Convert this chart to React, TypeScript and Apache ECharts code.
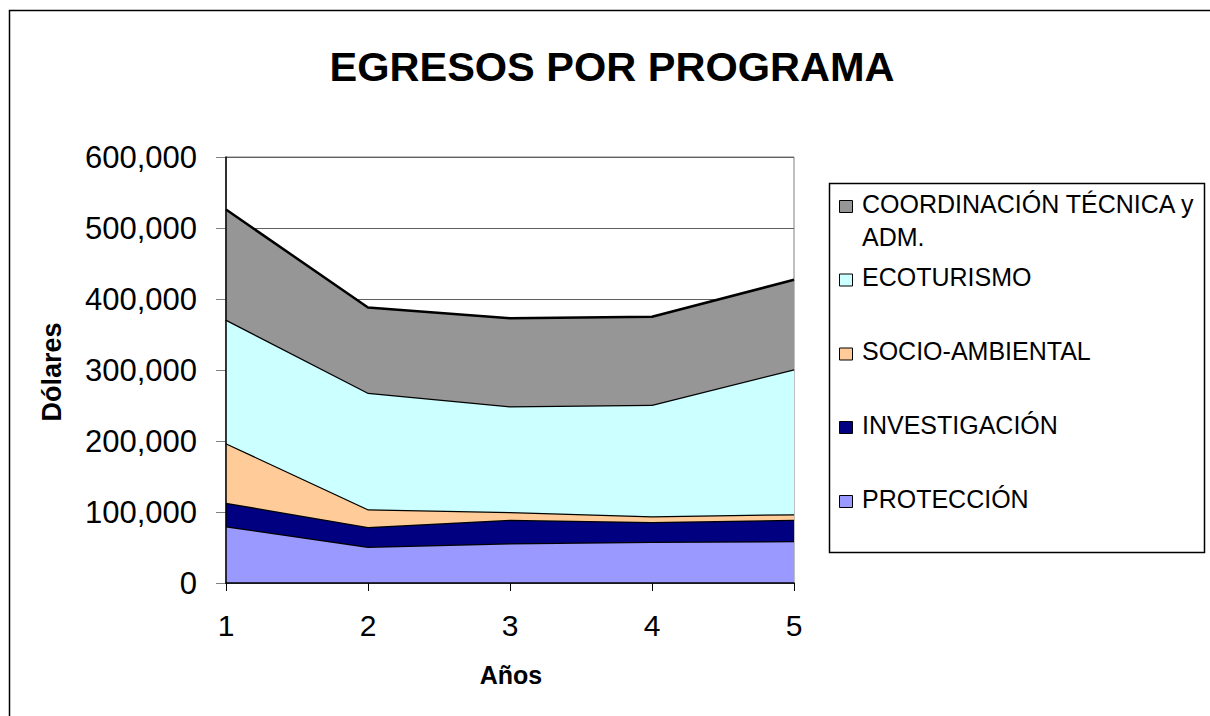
import React, { useEffect, useRef } from "react";
import * as echarts from "echarts";

const years = ["1", "2", "3", "4", "5"];
const proteccion = [80000, 51000, 56000, 58000, 59000];
const investigacion = [33000, 28000, 33000, 28000, 30000];
const socioAmbiental = [84000, 25000, 11000, 8000, 8000];
const ecoturismo = [174000, 164000, 149000, 157000, 204000];
const coordinacion = [155000, 120000, 124000, 124000, 126000];

const seriesNames = [
  "PROTECCIÓN",
  "INVESTIGACIÓN",
  "SOCIO-AMBIENTAL",
  "ECOTURISMO",
  "COORDINACIÓN TÉCNICA y\nADM.",
];
const seriesData = [proteccion, investigacion, socioAmbiental, ecoturismo, coordinacion];
const seriesColors = ["#9999FF", "#000080", "#FFCC99", "#CCFFFF", "#969696"];

const FONT = "'Liberation Sans', Arial, sans-serif";

export default function App() {
  const ref = useRef<HTMLDivElement>(null);
  useEffect(() => {
    document.body.style.margin = "0";
    const chart = echarts.init(ref.current!, null, { renderer: "svg" });

    const series = seriesData.map((d, i) => ({
      name: seriesNames[i],
      type: "line",
      stack: "total",
      data: d,
      symbol: "none",
      lineStyle: { color: "#000", width: 2.5 },
      itemStyle: { color: seriesColors[i] },
      areaStyle: { color: seriesColors[i], opacity: 1 },
      z: 2 + i,
    }));

    const legendItems: any[] = [];
    const legendY = [204, 277.5, 351.5, 425, 499];
    for (let k = 0; k < seriesNames.length; k++) {
      const idx = seriesNames.length - 1 - k;
      const cy = legendY[k];
      legendItems.push({
        type: "rect",
        shape: { x: 839.5, y: cy - 3.5, width: 13, height: 12 },
        style: { fill: seriesColors[idx], stroke: "#000", lineWidth: 1 },
      });
      legendItems.push({
        type: "text",
        style: {
          text: seriesNames[idx],
          x: 862,
          y: cy - 17,
          font: `25px ${FONT}`,
          fill: "#000",
          textAlign: "left",
          textVerticalAlign: "top",
          lineHeight: 33,
        },
      });
    }

    chart.setOption({
      animation: false,
      grid: {
        left: 226,
        top: 157,
        width: 568,
        height: 426,
        show: true,
        borderColor: "#808080",
        borderWidth: 1,
        backgroundColor: "transparent",
      },
      xAxis: {
        type: "category",
        data: years,
        boundaryGap: false,
        axisLine: { lineStyle: { color: "#000", width: 1.5 } },
        axisTick: { show: true, length: 8, lineStyle: { color: "#000" }, alignWithLabel: true },
        axisLabel: { fontFamily: FONT, fontSize: 30, color: "#000", margin: 27 },
        splitLine: { show: false },
        z: 10,
      },
      yAxis: [
        {
          type: "value",
          min: 0,
          max: 600000,
          interval: 100000,
          axisLine: { show: false },
          axisTick: { show: true, length: 10, lineStyle: { color: "#808080" } },
          axisLabel: {
            fontFamily: FONT,
            fontSize: 31,
            color: "#000",
            margin: 29,
            formatter: (v: number) => v.toLocaleString("en-US"),
          },
          splitLine: { show: true, lineStyle: { color: "#606060", width: 1 } },
          z: 0,
        },
        {
          type: "value",
          position: "left",
          min: 0,
          max: 600000,
          interval: 100000,
          axisLine: { show: true, lineStyle: { color: "#000", width: 1.5 } },
          axisTick: { show: false },
          axisLabel: { show: false },
          splitLine: { show: false },
          z: 10,
        },
      ],
      series,
      graphic: [
        {
          type: "polyline",
          silent: true,
          shape: { points: [[9.5, 800], [9.5, 10.5], [1300, 10.5]] },
          style: { fill: "none", stroke: "#000", lineWidth: 1.5 },
        },
        {
          type: "text",
          style: {
            text: "EGRESOS POR PROGRAMA",
            x: 612,
            y: 66,
            font: `bold 41.5px ${FONT}`,
            fill: "#000",
            textAlign: "center",
            textVerticalAlign: "middle",
          },
        },
        {
          type: "text",
          x: 52,
          y: 372,
          rotation: Math.PI / 2,
          style: {
            text: "Dólares",
            x: 0,
            y: 0,
            font: `bold 27px ${FONT}`,
            fill: "#000",
            textAlign: "center",
            textVerticalAlign: "middle",
          },
        },
        {
          type: "text",
          style: {
            text: "Años",
            x: 511,
            y: 675,
            font: `bold 25px ${FONT}`,
            fill: "#000",
            textAlign: "center",
            textVerticalAlign: "middle",
          },
        },
        {
          type: "rect",
          shape: { x: 829.5, y: 183.5, width: 375, height: 369 },
          style: { fill: "#fff", stroke: "#000", lineWidth: 1.5 },
        },
        ...legendItems,
      ],
    });
    return () => chart.dispose();
  }, []);
  return <div ref={ref} style={{ width: 1210, height: 716 }} />;
}
